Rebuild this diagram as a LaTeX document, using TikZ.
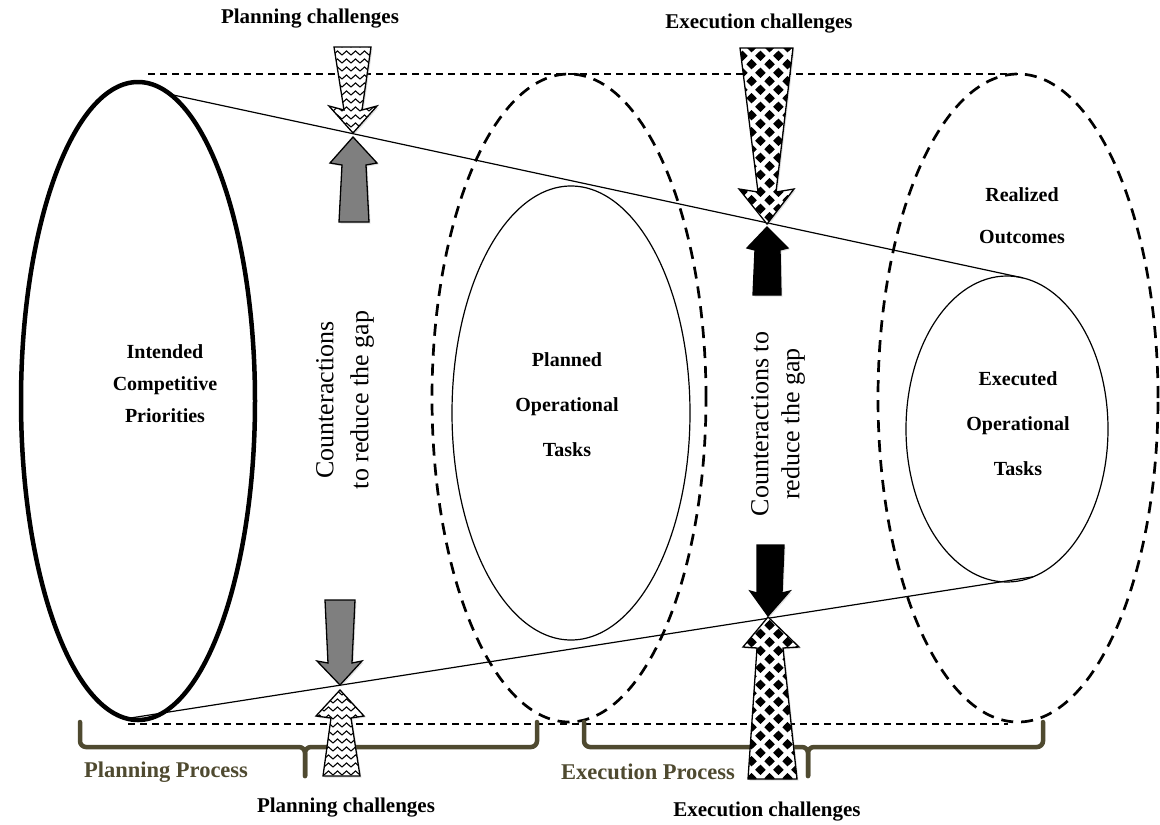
\documentclass[tikz,border=0pt]{standalone}
\usepackage{fontspec}
\setmainfont{Liberation Serif}
\usetikzlibrary{shapes.geometric,patterns,shadows}

% chevron rows for the planning-challenge arrows
\pgfdeclarepatternformonly{zigzagfill}{\pgfpoint{-1pt}{-1pt}}{\pgfpoint{10pt}{9pt}}{\pgfpoint{9pt}{8pt}}{%
  \pgfsetlinewidth{1.1pt}%
  \pgfpathmoveto{\pgfpoint{0pt}{2pt}}%
  \pgfpathlineto{\pgfpoint{4.5pt}{6pt}}%
  \pgfpathlineto{\pgfpoint{9pt}{2pt}}%
  \pgfusepath{stroke}}

% one diamond of half-size 5.2pt centred on (#1,#2)
\newcommand\diamondat[2]{%
  \pgfpathmoveto{\pgfpoint{#1pt}{\the\dimexpr #2pt-5.2pt\relax}}%
  \pgfpathlineto{\pgfpoint{\the\dimexpr #1pt+5.2pt\relax}{#2pt}}%
  \pgfpathlineto{\pgfpoint{#1pt}{\the\dimexpr #2pt+5.2pt\relax}}%
  \pgfpathlineto{\pgfpoint{\the\dimexpr #1pt-5.2pt\relax}{#2pt}}%
  \pgfpathclose}

% staggered diamonds for the execution-challenge arrows
\pgfdeclarepatternformonly{diamondfill}{\pgfpoint{-3pt}{-3pt}}{\pgfpoint{21pt}{20pt}}{\pgfpoint{18pt}{17pt}}{%
  \diamondat{4.5}{4.25}\diamondat{13.5}{12.75}\diamondat{22.5}{4.25}%
  \diamondat{4.5}{21.25}\diamondat{-4.5}{12.75}\diamondat{13.5}{-4.25}%
  \pgfusepath{fill}}

\definecolor{bracebrown}{HTML}{4F4A30}
\definecolor{shaftgrey}{HTML}{7F7F7F}

\tikzset{
  ell/.style={ellipse, inner sep=0pt, outer sep=0pt, draw=black},
  solidell/.style={ell, line width=1.2pt},
  heavyell/.style={ell, line width=4.5pt},
  dashell/.style={ell, line width=2.7pt, dash pattern=on 12pt off 8pt},
  heading/.style={font=\bfseries\fontsize{20}{45}\selectfont, align=center, inner sep=0pt},
  challenge/.style={font=\bfseries\fontsize{21}{25}\selectfont, inner sep=0pt},
  process/.style={font=\bfseries\fontsize{22.5}{26}\selectfont, text=bracebrown, inner sep=0pt},
  counter/.style={font=\fontsize{26}{35}\selectfont, align=center, rotate=90, inner sep=0pt},
  tangent/.style={line width=1.2pt},
  guide/.style={line width=1.2pt, dash pattern=on 7pt off 5pt},
  bracket/.style={draw=bracebrown, line width=4.5pt, rounded corners=6pt, line cap=round},
  arrowbody/.style={draw=black, line width=1.3pt, line join=miter,
    drop shadow={shadow xshift=1.5pt, shadow yshift=-1.5pt, opacity=0.25},
    preaction={fill=white}},
  wavyarrow/.style={arrowbody, pattern=zigzagfill},
  dotarrow/.style={arrowbody, pattern=diamondfill},
  greyarrow/.style={arrowbody, fill=shaftgrey},
  blackarrow/.style={arrowbody, fill=black}
}

\begin{document}
\begin{tikzpicture}[x=1pt, y=-1pt]
\useasboundingbox (0,0) rectangle (1160,825);

% ellipses
\node[heavyell, minimum width=234pt, minimum height=638pt] (intended) at (138,401) {};
\node[dashell, minimum width=274pt, minimum height=648pt] (planzone) at (569,398) {};
\node[solidell, minimum width=238pt, minimum height=454pt] (planned) at (571,413) {};
\node[dashell, minimum width=280pt, minimum height=648pt] (execzone) at (1018,398) {};
\node[solidell, minimum width=202pt, minimum height=306pt] (executed) at (1007,429) {};

% labels inside the ellipses
\node[heading, font=\bfseries\fontsize{20}{32}\selectfont] (intendedtxt) at (165,384) {Intended\\Competitive\\Priorities};
\node[heading] (plannedtxt) at (567,405) {Planned\\Operational\\Tasks};
\node[heading] (executedtxt) at (1018,424) {Executed\\Operational\\Tasks};
\node[heading, font=\bfseries\fontsize{20}{42}\selectfont] (realized) at (1022,216) {Realized\\Outcomes};

% funnel lines
\draw[tangent] (intended.84) -- (executed.84);
\draw[tangent] (intended.268) -- (executed.-80);

% dashed guides along top and bottom
\coordinate (topleft) at (148,74);
\coordinate (botleft) at (128,724);
\coordinate (botright) at (1008,724);
\draw[guide] (topleft) -- (execzone.north);
\draw[guide] (botleft) -- (botright);

% process braces
\draw[bracket] (80,722) -- (80,747) -- (305,747) -- (305,776);
\draw[bracket] (537,722) -- (537,747) -- (305,747) -- (305,776);
\draw[bracket] (584,722) -- (584,747) -- (808,747) -- (808,776);
\draw[bracket] (1043,722) -- (1043,747) -- (808,747) -- (808,776);

\node[process] (planproc) at (166,772) {Planning Process};
\node[process] (execproc) at (648,772) {Execution Process};

% counteraction texts
\node[counter] (counterplan) at (345,400) {Counteractions\\to reduce the gap};
\node[counter, font=\fontsize{26}{31}\selectfont] (counterexec) at (778,424) {Counteractions to\\reduce the gap};

% planning arrows
\path[wavyarrow] (334,47) -- (371,47) -- (362,110) -- (377,106) -- (353,133) -- (329,106) -- (344,110) -- cycle;
\path[greyarrow] (353,137) -- (377,163) -- (366,165) -- (369,222) -- (339,222) -- (342,165) -- (330,163) -- cycle;
\path[greyarrow] (325,600) -- (355,600) -- (352,663) -- (362,661) -- (340,685) -- (317,661) -- (328,663) -- cycle;
\path[wavyarrow] (340,690) -- (364,716) -- (351,718) -- (360,776) -- (323,776) -- (331,718) -- (316,716) -- cycle;

% execution arrows
\path[dotarrow] (740,48) -- (793,48) -- (776,192) -- (794,189) -- (767,224) -- (739,189) -- (758,192) -- cycle;
\path[blackarrow] (767,227) -- (788,248) -- (780,250) -- (781,295) -- (753,295) -- (755,250) -- (747,248) -- cycle;
\path[blackarrow] (757,545) -- (784,545) -- (782,593) -- (790,591) -- (768,616) -- (750,591) -- (757,593) -- cycle;
\path[dotarrow] (768,617) -- (799,647) -- (783,648) -- (797,779) -- (748,779) -- (757,648) -- (743,647) -- cycle;

% challenge captions
\node[challenge] (planchtop) at (310,19) {Planning challenges};
\node[challenge] (planchbot) at (346,808) {Planning challenges};
\node[challenge] (execchtop) at (759,24) {Execution challenges};
\node[challenge] (execchbot) at (767,812) {Execution challenges};
\end{tikzpicture}
\end{document}
